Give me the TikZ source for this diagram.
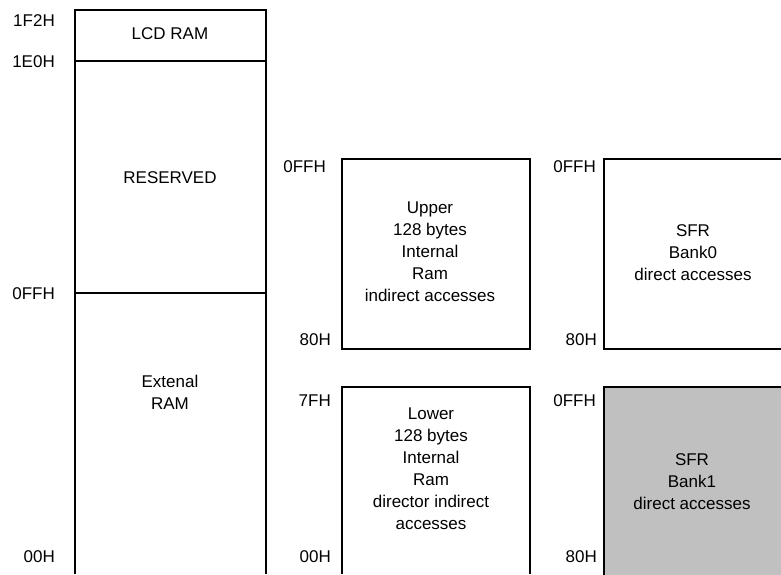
\documentclass[tikz,border=0pt]{standalone}
\usepackage{fontspec}
\setmainfont{Liberation Sans}
\usepackage{xcolor}
\definecolor{bankgray}{HTML}{C0C0C0}

\begin{document}
\begin{tikzpicture}[x=1pt,y=-1pt,
    addr/.style={anchor=east, inner sep=0pt, font=\fontsize{17}{22}\selectfont},
    area/.style={align=center, inner sep=0pt, font=\fontsize{17}{22}\selectfont},
    wall/.style={line width=1.2pt}]
    \useasboundingbox (0,0) rectangle (781,574);

    % externer Speicher
    \draw[wall] (75,574) -- (75,10) -- (266,10) -- (266,574);
    \draw[wall] (75,61) -- (266,61);
    \draw[wall] (75,293) -- (266,293);
    \node[area] (lcd) at (170,34) {LCD RAM};
    \node[area] (rsv) at (170,178) {RESERVED};
    \node[area] (ext) at (170,392) {Extenal\\RAM};

    \node[addr] (a1f2) at (55,21) {1F2H};
    \node[addr] (a1e0) at (55,62) {1E0H};
    \node[addr] (a0ff) at (55,294) {0FFH};
    \node[addr] (a00) at (55,557) {00H};

    % interner RAM
    \draw[wall] (342,159) rectangle (530,349);
    \draw[wall] (342,574) -- (342,387) -- (530,387) -- (530,574);
    \node[area] (upper) at (430,252) {Upper\\128 bytes\\Internal\\Ram\\indirect accesses};
    \node[area] (lower) at (431,469) {Lower\\128 bytes\\Internal\\Ram\\director indirect\\accesses};

    \node[addr] (iffh) at (326,167) {0FFH};
    \node[addr] (i80h) at (331,340) {80H};
    \node[addr] (i7fh) at (331,401) {7FH};
    \node[addr] (i00h) at (331,557) {00H};

    % SFR
    \fill[bankgray] (604,387) rectangle (782,575);
    \draw[wall] (782,159) -- (604,159) -- (604,349) -- (782,349);
    \draw[wall] (604,575) -- (604,387) -- (782,387);
    \node[area] (bank0) at (693,253) {SFR\\Bank0\\direct accesses};
    \node[area] (bank1) at (692,482) {SFR\\Bank1\\direct accesses};

    \node[addr] (sffh) at (596,167) {0FFH};
    \node[addr] (s80h) at (597,340) {80H};
    \node[addr] (tffh) at (596,401) {0FFH};
    \node[addr] (t80h) at (597,557) {80H};
\end{tikzpicture}
\end{document}
